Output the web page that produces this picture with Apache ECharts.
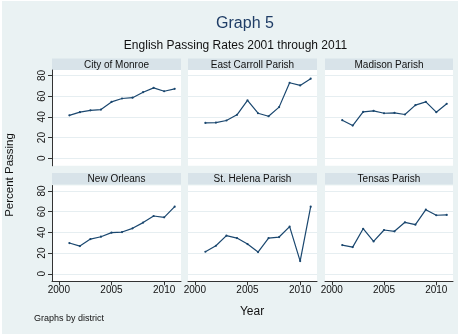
<!DOCTYPE html>
<html>
<head>
<meta charset="utf-8">
<script src="https://cdn.jsdelivr.net/npm/echarts@6/dist/echarts.min.js"></script>
<style>
  html, body { margin: 0; padding: 0; background: #ffffff; }
  #chart { position: absolute; left: 2px; top: 1px; width: 456px; height: 333px; }
</style>
</head>
<body>
<div id="chart"></div>
<script>
// English passing rates by district, 2001-2011
const years = [2001, 2002, 2003, 2004, 2005, 2006, 2007, 2008, 2009, 2010, 2011];
const districts = ['City of Monroe', 'East Carroll Parish', 'Madison Parish',
                   'New Orleans', 'St. Helena Parish', 'Tensas Parish'];
const monroe      = [41.5, 44.5, 46.3, 47.0, 54.4, 57.7, 58.5, 63.8, 68.0, 64.7, 67.0];
const eastCarroll = [34.2, 34.5, 36.5, 42.0, 56.0, 43.5, 40.6, 49.4, 72.9, 70.3, 76.8];
const madison     = [36.8, 31.6, 44.8, 45.8, 43.5, 43.9, 42.3, 51.3, 54.5, 44.5, 52.6];
const newOrleans  = [29.7, 26.8, 33.5, 35.8, 39.7, 40.3, 43.9, 49.4, 55.8, 54.5, 64.8];
const stHelena    = [21.3, 27.1, 36.8, 34.5, 28.7, 21.0, 34.5, 35.5, 45.5, 12.3, 64.8];
const tensas      = [27.7, 25.8, 43.5, 31.3, 42.3, 41.0, 49.7, 47.4, 61.9, 56.5, 56.8];
const yTickValues = [0, 20, 40, 60, 80];
const xTickValues = [2000, 2005, 2010];

const seriesValues = [monroe, eastCarroll, madison, newOrleans, stHelena, tensas];

// page coordinates -> chart coordinates (chart div is offset by 2,1)
const OX = 2, OY = 1;
const colLeft = [52, 188, 325];
const colWidth = [129, 129, 128];
const stripTop = [58.5, 173];
const stripH = 11.5;
const plotTop = [70, 185.5];
const plotH = 95.8;
const X_MIN = 1999.35, X_MAX = 2011.6;
const Y_MIN = -7.2, Y_MAX = 85.2;

const FONT = 'Liberation Sans, Arial, sans-serif';
const LINE = '#1a476f';
const AXIS = '#333333';
const GRIDLINE = '#e6eef1';

const grids = [], xAxes = [], yAxes = [], series = [], graphics = [];

districts.forEach((name, i) => {
  const r = Math.floor(i / 3), c = i % 3;
  grids.push({
    left: colLeft[c] - OX, top: plotTop[r] - OY,
    width: colWidth[c], height: plotH,
    show: true, backgroundColor: '#ffffff', borderWidth: 0
  });
  const bottomRow = r === 1, leftCol = c === 0;
  xAxes.push({
    type: 'value', gridIndex: i, min: X_MIN, max: X_MAX,
    axisLine: { show: bottomRow, onZero: false, lineStyle: { color: AXIS, width: 1 } },
    axisTick: { show: bottomRow, length: 4, customValues: xTickValues, lineStyle: { color: AXIS } },
    axisLabel: { show: bottomRow, customValues: xTickValues, margin: 4, fontSize: 10,
                 color: '#111', fontFamily: FONT, formatter: v => String(v) },
    splitLine: { show: false }
  });
  yAxes.push({
    type: 'value', gridIndex: i, min: Y_MIN, max: Y_MAX,
    axisLine: { show: leftCol, onZero: false, lineStyle: { color: AXIS, width: 1 } },
    axisTick: { show: leftCol, length: 4, customValues: yTickValues, lineStyle: { color: AXIS } },
    axisLabel: { show: false },
    splitLine: { show: true, lineStyle: { color: GRIDLINE, width: 1 } }
  });
  series.push({
    type: 'line', xAxisIndex: i, yAxisIndex: i,
    data: years.map((y, k) => [y, seriesValues[i][k]]),
    lineStyle: { color: LINE, width: 1.2 },
    itemStyle: { color: LINE },
    symbol: 'circle', symbolSize: 2.2, showSymbol: true,
    animation: false, silent: true
  });
  // panel strip with the district name
  graphics.push({
    type: 'rect',
    shape: { x: colLeft[c] - OX, y: stripTop[r] - OY, width: colWidth[c], height: stripH },
    style: { fill: '#d8e3e9' }
  });
  graphics.push({
    type: 'text',
    x: colLeft[c] - OX + colWidth[c] / 2, y: stripTop[r] - OY + stripH / 2 + 0.5,
    style: { text: name, fill: '#111', font: '10px ' + FONT, align: 'center', verticalAlign: 'middle' }
  });
});

graphics.push(
  { type: 'text', x: 245 - OX, y: 24 - OY,
    style: { text: 'Graph 5', fill: '#1f3d66', font: '16px ' + FONT, align: 'center', verticalAlign: 'middle' } },
  { type: 'text', x: 235.5 - OX, y: 45.5 - OY,
    style: { text: 'English Passing Rates 2001 through 2011', fill: '#111', font: '12px ' + FONT, align: 'center', verticalAlign: 'middle' } },
  { type: 'text', x: 10 - OX, y: 175 - OY, rotation: Math.PI / 2,
    style: { text: 'Percent Passing', fill: '#111', font: '11.5px ' + FONT, align: 'center', verticalAlign: 'middle' } },
  { type: 'text', x: 252 - OX, y: 311.5 - OY,
    style: { text: 'Year', fill: '#111', font: '12px ' + FONT, align: 'center', verticalAlign: 'middle' } },
  { type: 'text', x: 34 - OX, y: 319 - OY,
    style: { text: 'Graphs by district', fill: '#111', font: '9px ' + FONT, align: 'left', verticalAlign: 'middle' } }
);

const chart = echarts.init(document.getElementById('chart'), null, { renderer: 'canvas' });
chart.setOption({
  backgroundColor: '#eaf2f3',
  animation: false,
  grid: grids,
  xAxis: xAxes,
  yAxis: yAxes,
  series: series
});

// Vertical (bottom-to-top) tick labels for the left-column value axes,
// placed at the positions the axes' own scales give for each tick value.
[0, 3].forEach(gi => {
  yTickValues.forEach(v => {
    const p = chart.convertToPixel({ gridIndex: gi }, [X_MIN, v]);
    graphics.push({
      type: 'text', x: p[0] - 10, y: p[1], rotation: Math.PI / 2,
      style: { text: String(v), fill: '#111', font: '10px ' + FONT, align: 'center', verticalAlign: 'middle' }
    });
  });
});

chart.setOption({ graphic: { elements: graphics } });
</script>
</body>
</html>
